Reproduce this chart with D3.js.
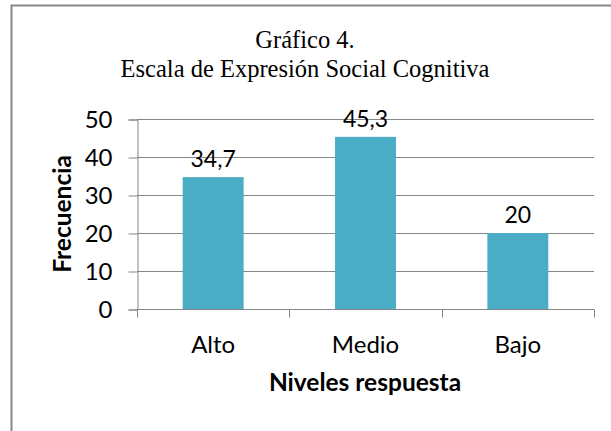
<!DOCTYPE html>
<html>
<head>
<meta charset="utf-8">
<title>Gráfico 4</title>
<style>
  body { margin: 0; background: #fff; }
</style>
</head>
<body>
<svg width="611" height="431"></svg>
<script src="https://cdnjs.cloudflare.com/ajax/libs/d3/7.8.5/d3.min.js"></script>
<script>
    var categories = ["Alto", "Medio", "Bajo"];
    var values = [34.7, 45.3, 20];
    var labels = ["34,7", "45,3", "20"];
    var yTicks = [0, 10, 20, 30, 40, 50];

    var svg = d3.select("svg"),
        margin = { top: 119, right: 17, bottom: 122, left: 137 },
        width = +svg.attr("width") - margin.left - margin.right,
        height = +svg.attr("height") - margin.top - margin.bottom;

    // frame (only top and left edges fall inside the picture)
    svg.append("rect")
        .attr("x", 11.5).attr("y", 5.5)
        .attr("width", 640).attr("height", 460)
        .attr("fill", "none")
        .attr("stroke", "#888")
        .attr("stroke-width", 2);

    svg.append("text")
        .attr("x", 305).attr("y", 48)
        .attr("text-anchor", "middle")
        .style("font-family", "Liberation Serif, serif")
        .style("font-size", "24.5px")
        .text("Gráfico 4.");

    svg.append("text")
        .attr("x", 305).attr("y", 77)
        .attr("text-anchor", "middle")
        .style("font-family", "Liberation Serif, serif")
        .style("font-size", "24.5px")
        .text("Escala de Expresión Social Cognitiva");

    var g = svg.append("g").attr("transform", "translate(" + margin.left + "," + margin.top + ")");

    var x = d3.scaleBand()
        .domain(categories)
        .range([0, width])
        .paddingInner(0.6)
        .paddingOuter(0.3);

    var y = d3.scaleLinear()
        .domain([0, 50])
        .range([height, 0]);

    // gridlines
    g.append("g")
        .selectAll("line")
        .data(yTicks)
        .enter().append("line")
        .attr("x1", 0).attr("x2", width)
        .attr("y1", function (d) { return y(d) + 0.5; })
        .attr("y2", function (d) { return y(d) + 0.5; })
        .attr("stroke", "#868686");

    var font = "Lato, 'Open Sans', sans-serif";

    var yAxis = g.append("g")
        .attr("transform", "translate(0.5,0.5)")
        .call(d3.axisLeft(y).tickValues(yTicks).tickSize(9).tickPadding(16));
    yAxis.select(".domain").attr("stroke", "#868686");
    yAxis.selectAll("line").attr("stroke", "#868686");
    yAxis.selectAll("text")
        .style("font-family", font)
        .style("font-size", "24px")
        .attr("fill", "#000");

    // x axis with boundary ticks
    var xAxis = g.append("g").attr("transform", "translate(0," + (height + 0.5) + ")");
    xAxis.append("line")
        .attr("x1", 0).attr("x2", width)
        .attr("stroke", "#868686");
    var bounds = d3.range(categories.length + 1).map(function (i) {
        return i === categories.length ? width : x(categories[i]) - x.step() * x.paddingInner() / 2;
    });
    bounds[0] = 0;
    xAxis.selectAll(".bt")
        .data(bounds)
        .enter().append("line")
        .attr("class", "bt")
        .attr("x1", function (d) { return Math.round(d) + 0.5; })
        .attr("x2", function (d) { return Math.round(d) + 0.5; })
        .attr("y1", 0).attr("y2", 8)
        .attr("stroke", "#868686");
    xAxis.selectAll(".lbl")
        .data(categories)
        .enter().append("text")
        .attr("x", function (d) { return x(d) + x.bandwidth() / 2; })
        .attr("y", 43)
        .attr("text-anchor", "middle")
        .style("font-family", font)
        .style("font-size", "24px")
        .text(function (d) { return d; });

    // bars
    g.selectAll(".bar")
        .data(values)
        .enter().append("rect")
        .attr("class", "bar")
        .attr("x", function (d, i) { return x(categories[i]); })
        .attr("y", function (d) { return y(d); })
        .attr("width", x.bandwidth())
        .attr("height", function (d) { return height - y(d); })
        .attr("fill", "#4BACC6");

    g.selectAll(".val")
        .data(values)
        .enter().append("text")
        .attr("class", "val")
        .attr("x", function (d, i) { return x(categories[i]) + x.bandwidth() / 2; })
        .attr("y", function (d) { return y(d) - 10; })
        .attr("text-anchor", "middle")
        .style("font-family", font)
        .style("font-size", "23px")
        .text(function (d, i) { return labels[i]; });

    svg.append("text")
        .attr("x", 365).attr("y", 391)
        .attr("text-anchor", "middle")
        .style("font-family", font)
        .style("font-size", "24.5px")
        .style("font-weight", "bold")
        .text("Niveles respuesta");

    svg.append("text")
        .attr("transform", "translate(71,214) rotate(-90)")
        .attr("text-anchor", "middle")
        .style("font-family", font)
        .style("font-size", "24.5px")
        .style("font-weight", "bold")
        .text("Frecuencia");
</script>
</body>
</html>
